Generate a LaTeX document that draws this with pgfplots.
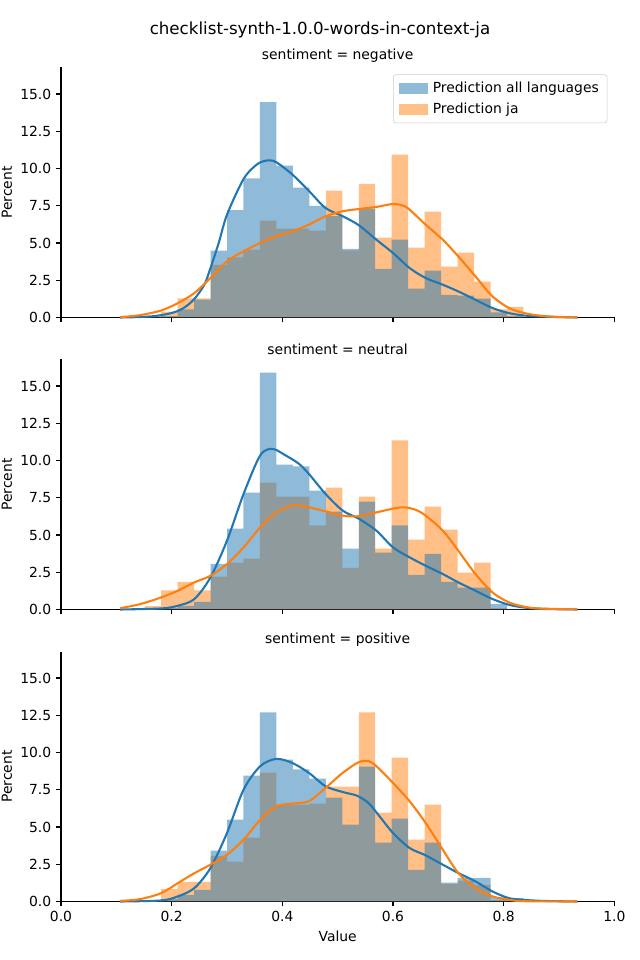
\documentclass[border=0pt]{standalone}
\usepackage{fontspec}
\setmainfont{DejaVu Sans}
\usepackage{pgfplots}
\usepackage{pgfplotstable}
\pgfplotsset{compat=1.18}
\definecolor{cblue}{RGB}{31,119,180}
\definecolor{corange}{RGB}{255,127,14}
\definecolor{lblue}{RGB}{143,187,217}
\definecolor{lorange}{RGB}{255,191,134}

\pgfplotstableread{
x b o
0.1513 0 0.1
0.1810 0.1 0.4
0.2108 0.55 1.28
0.2405 1.2 1.28
0.2703 4.48 3.54
0.3001 7.2 4.04
0.3298 9.33 4.55
0.3596 14.45 6.5
0.3893 10.2 5.96
0.4191 8.72 5.96
0.4489 7.5 5.83
0.4786 6.8 8.52
0.5084 4.6 4.5
0.5381 7.29 8.97
0.5679 3.27 5.36
0.5976 5.22 10.94
0.6274 1.93 4.69
0.6572 3.14 7.1
0.6869 1.52 3.41
0.7167 1.46 4.35
0.7464 1.26 2.4
0.7762 0.34 0.54
0.8060 0.1 0.72
0.8357 0.02 0
0.8655 0 0
}\tneg

\pgfplotstableread{
x b o
0.1513 0 0.22
0.1810 0.1 1.28
0.2108 0.25 1.86
0.2405 0.52 1.28
0.2703 3.07 2.2
0.3001 5.43 3.14
0.3298 7.85 3.41
0.3596 15.9 8.52
0.3893 9.73 7.58
0.4191 9.6 7.58
0.4489 7.98 5.65
0.4786 6.57 8.18
0.5084 4.08 2.8
0.5381 7.24 7.58
0.5679 3.81 4.08
0.5976 5.65 11.35
0.6274 2.33 4.69
0.6572 3.74 6.9
0.6869 1.86 5.36
0.7167 1.46 2.47
0.7464 1.46 3.14
0.7762 0.38 0.1
0.8060 0.05 0
0.8357 0.02 0
0.8655 0 0
}\tneu

\pgfplotstableread{
x b o
0.1513 0 0
0.1810 0.16 0.85
0.2108 0.45 1.32
0.2405 0.78 1.32
0.2703 3.41 3.07
0.3001 5.49 2.67
0.3298 8.45 4.28
0.3596 12.69 8.65
0.3893 9.53 6.5
0.4191 8.86 6.5
0.4489 8.25 6.57
0.4786 6.97 7.71
0.5084 5.16 7.71
0.5381 9.06 12.69
0.5679 3.95 5.96
0.5976 5.56 9.66
0.6274 2.13 4.15
0.6572 3.95 6.5
0.6869 1.26 1.19
0.7167 1.59 1.4
0.7464 1.59 1.12
0.7762 0.31 0.1
0.8060 0.22 0
0.8357 0.02 0
0.8655 0 0
}\tpos

\pgfplotsset{
  panel/.style={
    scale only axis, width=398.4pt, height=180pt,
    xmin=0, xmax=1, ymin=0, ymax=16.78,
    axis lines*=left,
    axis line style={line width=0.8pt, -},
    tick align=outside, major tick length=3.5pt,
    every tick/.style={line width=0.8pt, black},
    xtick={0,0.2,0.4,0.6,0.8,1},
    ytick={0,2.5,5,7.5,10,12.5,15},
    tick label style={font=\fontsize{10}{12}\selectfont},
    label style={font=\fontsize{10}{12}\selectfont},
    title style={font=\fontsize{10}{12}\selectfont, inner sep=0pt, yshift=-2.5pt},
    /pgf/number format/.cd, fixed, fixed zerofill, precision=1, assume math mode=true,
    /pgfplots/.cd,
    ylabel={Percent},
    ylabel style={xshift=0pt, yshift=-1pt},
    clip=false,
  },
  hb/.style={const plot mark left, draw=none, fill=cblue, fill opacity=0.5, forget plot},
  ho/.style={const plot mark left, draw=none, fill=corange, fill opacity=0.5, forget plot},
  kb/.style={cblue, line width=1.5pt, smooth, tension=0.5, no marks, forget plot},
  ko/.style={corange, line width=1.5pt, smooth, tension=0.5, no marks, forget plot},
}

\begin{document}
\begin{tikzpicture}
\path[use as bounding box] (0,0) rectangle (460.8pt,691.2pt);
\node[font=\fontsize{12}{14.4}\selectfont] at (230.4pt,669.6pt) {checklist-synth-1.0.0-words-in-context-ja};

% ---------- negative ----------
\begin{axis}[panel, at={(43.92pt,462.6pt)}, anchor=south west,
  xticklabels={}, title={sentiment = negative},
  legend style={at={(1,1)}, anchor=north east, xshift=-5pt, yshift=-5pt,
    draw=black!20, rounded corners=2pt, font=\fontsize{10}{12}\selectfont,
    legend cell align=left, row sep=2.5pt, inner xsep=4pt, inner ysep=3pt},
]
\addlegendimage{legend image code/.code={\fill[lblue, sharp corners] (-1pt,-3.6pt) rectangle (19pt,3.6pt);}}
\addlegendentry{\hspace{2pt}Prediction all languages}
\addlegendimage{legend image code/.code={\fill[lorange, sharp corners] (-1pt,-3.6pt) rectangle (19pt,3.6pt);}}
\addlegendentry{\hspace{2pt}Prediction ja}
\addplot[ho] table[x=x,y=o] {\tneg} \closedcycle;
\addplot[hb] table[x=x,y=b] {\tneg} \closedcycle;
\addplot[kb] coordinates {(0.107,0) (0.14,0.03) (0.17,0.1) (0.2,0.3) (0.22,0.6) (0.24,1.2) (0.259,2.2) (0.27,3.3) (0.285,5.0) (0.3,6.9) (0.33,9.3) (0.355,10.3) (0.375,10.55) (0.39,10.4) (0.418,9.6) (0.448,8.5) (0.478,7.35) (0.509,6.8) (0.538,6.2) (0.57,5.22) (0.6,4.33) (0.63,3.32) (0.659,2.65) (0.69,2.2) (0.718,1.75) (0.749,1.19) (0.78,0.63) (0.81,0.29) (0.838,0.13) (0.87,0.06) (0.9,0.03) (0.933,0)};
\addplot[ko] coordinates {(0.107,0.02) (0.143,0.16) (0.181,0.47) (0.211,0.96) (0.241,1.64) (0.27,2.65) (0.3,3.77) (0.33,4.44) (0.36,5.0) (0.389,5.45) (0.418,5.78) (0.448,6.23) (0.478,6.79) (0.509,7.13) (0.54,7.29) (0.57,7.42) (0.6,7.62) (0.618,7.51) (0.63,7.24) (0.659,6.23) (0.69,5.22) (0.718,4.1) (0.749,2.76) (0.78,1.41) (0.81,0.63) (0.838,0.29) (0.864,0.13) (0.9,0.03) (0.933,0)};
\end{axis}

% ---------- neutral ----------
\begin{axis}[panel, at={(43.92pt,252.36pt)}, anchor=south west,
  xticklabels={}, title={sentiment = neutral}]
\addplot[ho] table[x=x,y=o] {\tneu} \closedcycle;
\addplot[hb] table[x=x,y=b] {\tneu} \closedcycle;
\addplot[kb] coordinates {(0.107,0) (0.181,0.07) (0.211,0.25) (0.241,0.7) (0.27,2.15) (0.3,4.62) (0.33,7.76) (0.36,10.34) (0.382,10.78) (0.406,10.34) (0.43,9.78) (0.448,9.1) (0.478,7.76) (0.509,6.64) (0.538,6.1) (0.57,5.29) (0.6,4.17) (0.63,3.5) (0.659,2.94) (0.69,2.38) (0.718,1.82) (0.749,1.26) (0.78,0.7) (0.81,0.31) (0.838,0.13) (0.87,0.04) (0.933,0)};
\addplot[ko] coordinates {(0.107,0.09) (0.143,0.36) (0.181,0.81) (0.211,1.26) (0.241,1.82) (0.27,2.26) (0.3,3.05) (0.33,4.17) (0.36,5.52) (0.389,6.52) (0.418,6.97) (0.43,6.99) (0.448,6.86) (0.478,6.59) (0.509,6.3) (0.538,6.26) (0.57,6.52) (0.615,6.86) (0.64,6.7) (0.659,6.3) (0.69,5.29) (0.718,3.95) (0.749,2.38) (0.78,1.14) (0.81,0.47) (0.838,0.18) (0.864,0.07) (0.933,0)};
\end{axis}

% ---------- positive ----------
\begin{axis}[panel, at={(43.92pt,42.12pt)}, anchor=south west,
  title={sentiment = positive}, xlabel={Value}]
\addplot[ho] table[x=x,y=o] {\tpos} \closedcycle;
\addplot[hb] table[x=x,y=b] {\tpos} \closedcycle;
\addplot[kb] coordinates {(0.107,0) (0.181,0.07) (0.211,0.34) (0.241,0.9) (0.27,2.24) (0.3,4.6) (0.33,7.51) (0.36,9.08) (0.389,9.57) (0.418,9.3) (0.448,8.63) (0.478,7.74) (0.509,7.35) (0.535,7.1) (0.556,6.6) (0.575,5.75) (0.6,4.6) (0.63,3.59) (0.659,3.1) (0.69,2.47) (0.718,1.91) (0.749,1.35) (0.78,0.67) (0.81,0.22) (0.838,0.11) (0.87,0.04) (0.933,0)};
\addplot[ko] coordinates {(0.107,0.04) (0.143,0.16) (0.181,0.56) (0.211,1.23) (0.241,1.9) (0.27,2.47) (0.3,3.14) (0.33,4.15) (0.36,5.49) (0.389,6.39) (0.418,6.57) (0.448,6.73) (0.478,7.62) (0.509,8.63) (0.538,9.35) (0.556,9.42) (0.57,9.08) (0.6,7.96) (0.63,6.73) (0.659,5.27) (0.69,3.48) (0.718,1.91) (0.749,0.9) (0.78,0.34) (0.81,0.11) (0.838,0.02) (0.933,0)};
\end{axis}
\end{tikzpicture}
\end{document}
